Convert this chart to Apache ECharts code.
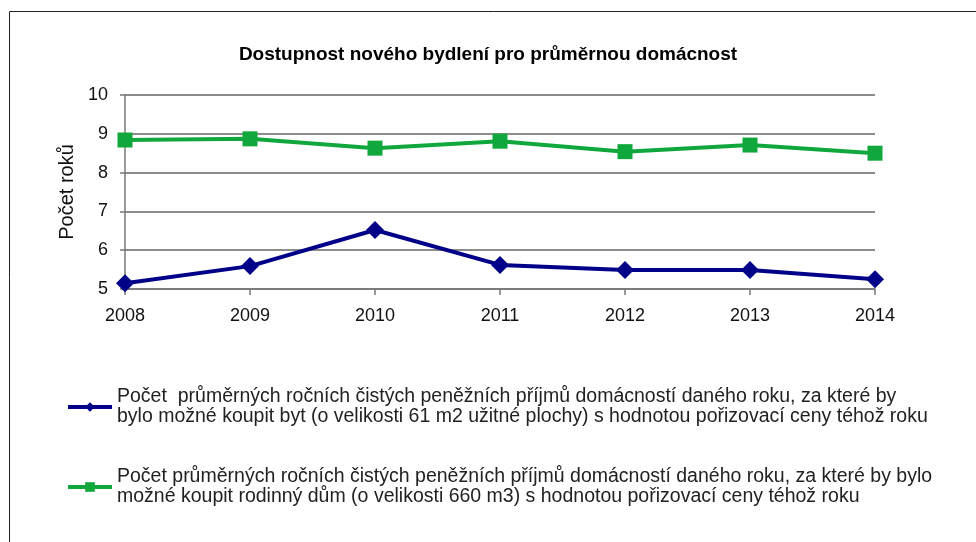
<!DOCTYPE html>
<html>
<head>
<meta charset="utf-8">
<title>Dostupnost nového bydlení</title>
<script src="https://cdn.jsdelivr.net/npm/echarts@6/dist/echarts.min.js"></script>
<style>
  html, body { margin: 0; padding: 0; background: #fff; }
  #chart { width: 976px; height: 542px; }
</style>
</head>
<body>
<div id="chart"></div>
<script>
// data
var years = ['2008', '2009', '2010', '2011', '2012', '2013', '2014']
var bytValues = [5.15, 5.59, 6.52, 5.62, 5.49, 5.49, 5.25]
var dumValues = [8.84, 8.87, 8.63, 8.81, 8.54, 8.71, 8.50]
var bytName = 'Počet  průměrných ročních čistých peněžních příjmů domácností daného roku, za které by\nbylo možné koupit byt (o velikosti 61 m2 užitné plochy) s hodnotou pořizovací ceny téhož roku'
var dumName = 'Počet průměrných ročních čistých peněžních příjmů domácností daného roku, za které by bylo\nmožné koupit rodinný dům (o velikosti 660 m3) s hodnotou pořizovací ceny téhož roku'

var font = 'Liberation Sans, Arial, sans-serif'
var chart = echarts.init(document.getElementById('chart'))

chart.setOption({
  animation: false,
  backgroundColor: '#fff',
  textStyle: { fontFamily: font },
  title: {
    text: 'Dostupnost nového bydlení pro průměrnou domácnost',
    left: 'center',
    top: 40,
    textStyle: { fontSize: 19, fontWeight: 'bold', color: '#000', fontFamily: font }
  },
  // outer frame of the original picture
  graphic: [{
    type: 'rect',
    shape: { x: 9.5, y: 11.5, width: 1000, height: 600 },
    style: { fill: 'none', stroke: '#222', lineWidth: 1 },
    silent: true
  }],
  grid: { left: 125, right: 101, top: 95, bottom: 253 },
  legend: {
    orient: 'vertical',
    left: 61,
    top: 372,
    itemGap: 20,
    itemWidth: 44,
    itemHeight: 12,
    lineStyle: { width: 4 },
    textStyle: {
      fontSize: 19.5,
      lineHeight: 20,
      color: '#222',
      padding: [20, 0, 0, 0],
      fontFamily: font
    },
    data: [bytName, dumName]
  },
  xAxis: {
    type: 'category',
    data: years,
    boundaryGap: false,
    axisLine: { lineStyle: { color: '#777', width: 1.5 } },
    axisTick: { show: true, alignWithLabel: true, length: 6, lineStyle: { color: '#777', width: 1.5 } },
    axisLabel: { fontSize: 18, color: '#111', margin: 18 }
  },
  yAxis: {
    type: 'value',
    min: 5,
    max: 10,
    interval: 1,
    name: 'Počet roků',
    nameLocation: 'middle',
    nameGap: 41,
    nameTextStyle: { fontSize: 20, color: '#111' },
    axisLine: { show: true, lineStyle: { color: '#777', width: 1.5 } },
    axisTick: { show: true, length: 5, lineStyle: { color: '#777', width: 1.5 } },
    axisLabel: { fontSize: 18, color: '#111', margin: 17 },
    splitLine: { lineStyle: { color: '#666', width: 1.5 } }
  },
  series: [
    {
      name: bytName,
      type: 'line',
      data: bytValues,
      symbol: 'diamond',
      symbolSize: 18,
      color: '#000088',
      lineStyle: { color: '#000088', width: 4 },
      itemStyle: { color: '#000088' }
    },
    {
      name: dumName,
      type: 'line',
      data: dumValues,
      symbol: 'rect',
      symbolSize: 15,
      color: '#10a83c',
      lineStyle: { color: '#10a83c', width: 4 },
      itemStyle: { color: '#10a83c' }
    }
  ]
})
</script>
</body>
</html>
